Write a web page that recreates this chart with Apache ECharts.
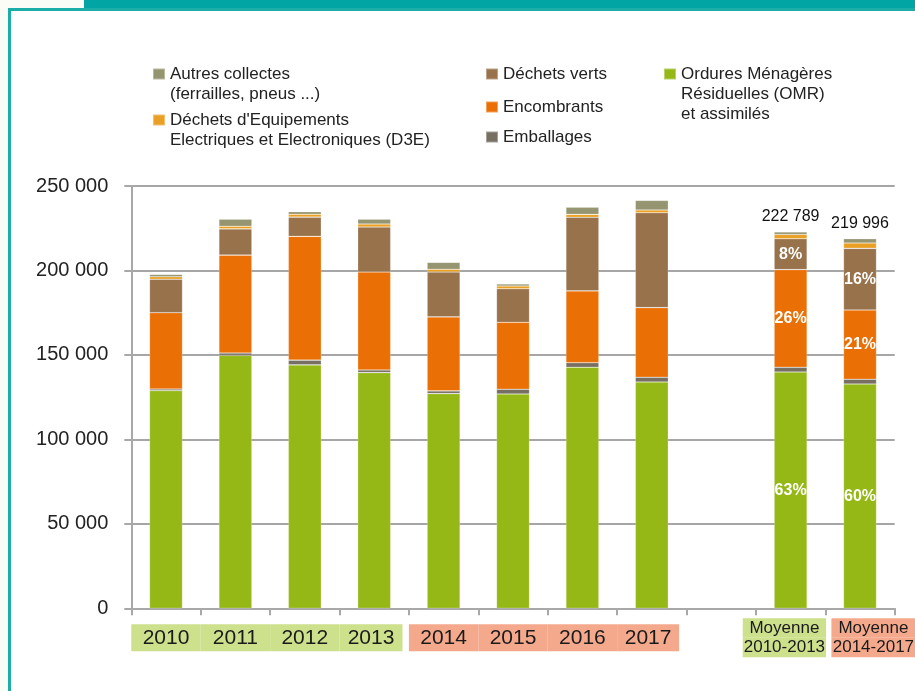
<!DOCTYPE html>
<html>
<head>
<meta charset="utf-8">
<style>
  html, body { margin: 0; padding: 0; background: #ffffff; }
  #chart { width: 915px; height: 691px; }
</style>
<script src="https://cdn.jsdelivr.net/npm/echarts@6.0.0/dist/echarts.min.js"></script>
</head>
<body>
<div id="chart"></div>
<script>
// ---- data (tonnes) ----
var categories = ['2010', '2011', '2012', '2013', '2014', '2015', '2016', '2017', '', 'Moyenne\n2010-2013', 'Moyenne\n2014-2017'];
var labelGroups = ['g', 'g', 'g', 'g', 'p', 'p', 'p', 'p', '', 'g', 'p'];

var seriesNames = [
  'Ordures Ménagères\nRésiduelles (OMR)\net assimilés',
  'Emballages',
  'Encombrants',
  'Déchets verts',
  "Déchets d'Equipements\nElectriques et Electroniques (D3E)",
  'Autres collectes\n(ferrailles, pneus ...)'
];
var omr    = [128900, 149700, 144100, 139500, 127100, 126900, 142700, 134000, null, 139900, 132800];
var emb    = [900, 1400, 2800, 1600, 1600, 2800, 2700, 2800, null, 2800, 2800];
var enc    = [45200, 58000, 73300, 58000, 43800, 39600, 42500, 41200, null, 57800, 41000];
var dv     = [19800, 15500, 11400, 26600, 26600, 19900, 43600, 56200, null, 18300, 36500];
var d3e    = [1500, 1550, 1700, 1800, 1600, 1600, 1700, 1600, null, 2500, 3200];
var autres = [1400, 4200, 1500, 2800, 4100, 1200, 4200, 5700, null, 1500, 2500];

var totalLabels = ['', '', '', '', '', '', '', '', '', '222 789', '219 996'];
var pctOMR = ['', '', '', '', '', '', '', '', '', '63%', '60%'];
var pctEnc = ['', '', '', '', '', '', '', '', '', '26%', '21%'];
var pctDV  = ['', '', '', '', '', '', '', '', '', '8%', '16%'];

var yTickLabels = ['0', '50 000', '100 000', '150 000', '200 000', '250 000'];

var colors = ['#95B816', '#776F62', '#EA7006', '#98724B', '#E9A024', '#959571'];
var FONT = "'Liberation Sans', Arial, sans-serif";

function pctLabel(arr) {
  return {
    show: true, position: 'inside', color: '#ffffff', fontWeight: 'bold',
    fontSize: 16, fontFamily: FONT,
    formatter: function (p) { return arr[p.dataIndex] || ''; }
  };
}

function mkSeries(i, data, label) {
  var s = {
    name: seriesNames[i], type: 'bar', stack: 'total', data: data,
    barWidth: '47.5%',
    itemStyle: { color: colors[i], borderColor: 'rgba(255,255,255,0.35)', borderWidth: 0.6 },
    emphasis: { disabled: true }
  };
  if (label) s.label = label;
  return s;
}

// legend: first text line is aligned with the icon by prepending empty lines
function mkLegend(i, left, iconY) {
  var nLines = seriesNames[i].split('\n').length;
  var pre = '';
  for (var k = 1; k < nLines; k++) pre += '\n';
  var total = nLines * 2 - 1;
  return {
    data: [seriesNames[i]],
    left: left, top: iconY - total * 10,
    orient: 'vertical', padding: 0, selectedMode: false,
    icon: 'rect', itemWidth: 12, itemHeight: 11,
    formatter: function (name) { return pre + name; },
    textStyle: { fontSize: 17, lineHeight: 20, color: '#222', fontFamily: FONT }
  };
}

var chart = echarts.init(document.getElementById('chart'), null, { renderer: 'canvas' });

var option = {
  backgroundColor: '#ffffff',
  animation: false,
  textStyle: { fontFamily: FONT },
  graphic: [
    { type: 'rect', shape: { x: 0, y: 0, width: 915, height: 8 }, style: { fill: '#FCFCF6' }, z: 0 },
    { type: 'rect', shape: { x: 0, y: 0, width: 8, height: 691 }, style: { fill: '#FCFCF6' }, z: 0 },
    { type: 'rect', shape: { x: 84, y: 0, width: 831, height: 8 }, style: { fill: '#00A5A4' }, z: 1 },
    { type: 'rect', shape: { x: 8, y: 8, width: 907, height: 3 }, style: { fill: '#1BAEA9' }, z: 1 },
    { type: 'rect', shape: { x: 8, y: 8, width: 3, height: 683 }, style: { fill: '#1BAEA9' }, z: 1 }
  ],
  legend: [
    mkLegend(5, 152, 74),
    mkLegend(4, 152, 120),
    mkLegend(3, 485, 74),
    mkLegend(2, 485, 107),
    mkLegend(1, 485, 137),
    mkLegend(0, 663, 74)
  ],
  grid: { left: 131.3, right: 20.3, top: 186, bottom: 82.7, containLabel: false, outerBoundsMode: 'none' },
  xAxis: {
    type: 'category', data: categories,
    axisLine: { show: true, lineStyle: { color: '#a8a8a8', width: 2 } },
    axisTick: { show: true, length: 7, interval: 0, lineStyle: { color: '#a8a8a8', width: 2 } },
    axisLabel: {
      interval: 0, hideOverlap: false, margin: 29.5, verticalAlign: 'middle', color: '#1a1a1a',
      formatter: function (value, idx) {
        if (!value) return '';
        var grp = labelGroups[idx];
        if (value.indexOf('\n') >= 0) {
          var lines = value.split('\n');
          if (grp === 'g') {
            return lines.map(function (l) { return '{mg|' + l + '}{sr| }'; }).join('\n');
          }
          return lines.map(function (l) { return '{sl| }{mp|' + l + '}'; }).join('\n');
        }
        var last = (idx === 3 || idx === 7);
        return last ? '{' + grp + 'n|' + value + '}{' + grp + 'gap| }' : '{' + grp + '|' + value + '}';
      },
      rich: {
        g:    { width: 69.4, height: 27, lineHeight: 27, backgroundColor: '#CDE08B', align: 'center', fontSize: 21, color: '#1a1a1a', fontFamily: FONT },
        gn:   { width: 63, height: 27, lineHeight: 27, backgroundColor: '#CDE08B', align: 'center', fontSize: 21, color: '#1a1a1a', fontFamily: FONT },
        ggap: { width: 6.4, height: 27, lineHeight: 27, align: 'center', fontSize: 21 },
        p:    { width: 69.4, height: 27, lineHeight: 27, backgroundColor: '#F4A98D', align: 'center', fontSize: 21, color: '#1a1a1a', fontFamily: FONT },
        pn:   { width: 62, height: 27, lineHeight: 27, backgroundColor: '#F4A98D', align: 'center', fontSize: 21, color: '#1a1a1a', fontFamily: FONT },
        pgap: { width: 7.4, height: 27, lineHeight: 27, align: 'center', fontSize: 21 },
        mg:   { width: 83.3, height: 19.5, lineHeight: 19.5, backgroundColor: '#CDE08B', align: 'center', fontSize: 17, color: '#1a1a1a', fontFamily: FONT },
        sr:   { width: 12.4, height: 19.5, lineHeight: 19.5, align: 'center', fontSize: 17 },
        mp:   { width: 84, height: 19.5, lineHeight: 19.5, backgroundColor: '#F4A98D', align: 'center', fontSize: 17, color: '#1a1a1a', fontFamily: FONT },
        sl:   { width: 26.8, height: 19.5, lineHeight: 19.5, align: 'center', fontSize: 17 }
      }
    }
  },
  yAxis: {
    type: 'value', min: 0, max: 250000, interval: 50000,
    axisLine: { show: true, lineStyle: { color: '#a8a8a8', width: 2 } },
    axisTick: { show: true, length: 7, lineStyle: { color: '#a8a8a8', width: 2 } },
    splitLine: { show: true, lineStyle: { color: '#a6a6a6', width: 2 } },
    axisLabel: {
      margin: 23, fontSize: 20, color: '#222', fontFamily: FONT,
      formatter: function (v) { return yTickLabels[Math.round(v / 50000)]; }
    }
  },
  series: [
    mkSeries(0, omr, pctLabel(pctOMR)),
    mkSeries(1, emb),
    mkSeries(2, enc, pctLabel(pctEnc)),
    mkSeries(3, dv, pctLabel(pctDV)),
    mkSeries(4, d3e),
    mkSeries(5, autres, {
      show: true, position: 'top', distance: 7, color: '#111', fontSize: 16, fontFamily: FONT,
      formatter: function (p) { return totalLabels[p.dataIndex] || ''; }
    })
  ]
};
chart.setOption(option);
</script>
</body>
</html>
